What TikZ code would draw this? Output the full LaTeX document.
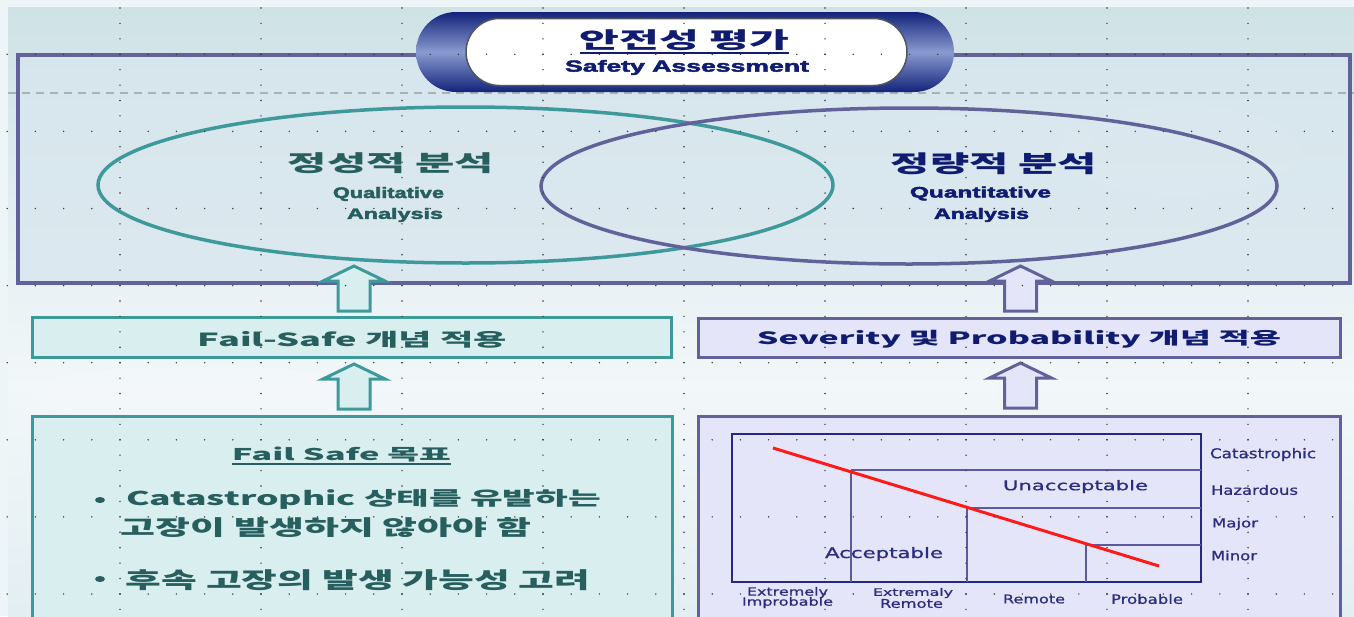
\documentclass[tikz,border=0pt]{standalone}
\usepackage{fontspec}
\usepackage{graphicx}
\usetikzlibrary{shapes.geometric,calc}
\newfontfamily\kr{Noto Sans CJK KR}
\newfontfamily\ar{Liberation Sans}[BoldFeatures={FakeBold=2.5}]
\newfontfamily\dv{DejaVu Sans}[FakeBold=0.8]
\newcommand{\fb}[3]{\resizebox*{#1pt}{#2pt}{#3}}
\definecolor{navy}{HTML}{101C70}
\definecolor{tealdk}{HTML}{275E5E}
\definecolor{tealln}{HTML}{3E9A9A}
\definecolor{tealfill}{HTML}{D9EEEF}
\definecolor{purln}{HTML}{62629A}
\definecolor{purfill}{HTML}{E5E5FA}
\definecolor{panelln}{HTML}{62629A}
\definecolor{panelfill}{HTML}{D8E6EE}
\definecolor{chartln}{HTML}{27287A}
\definecolor{chartin}{HTML}{5A5AA0}
\definecolor{chartlab}{HTML}{2C2C80}
\definecolor{dotc}{HTML}{3A3A3A}
\definecolor{bgtop}{HTML}{CFE2E6}
\definecolor{bgmid}{HTML}{F2F7F9}
\definecolor{bgbot}{HTML}{E3EEF2}
\definecolor{bgpale}{HTML}{EEF5F7}
\definecolor{dashc}{HTML}{A8B0B8}
\definecolor{pillbd}{HTML}{505560}
\definecolor{redln}{HTML}{FF1A1A}
\definecolor{pilldark}{HTML}{13237A}
\definecolor{pilllight}{HTML}{8A9AD0}
\tikzset{
  txt/.style={inner sep=0pt, anchor=center},
  box/.style={draw, line width=3pt, inner sep=0pt, rectangle},
  tealbox/.style={box, draw=tealln, fill=tealfill},
  purbox/.style={box, draw=purln, fill=purfill},
  ell/.style={draw, ellipse, line width=3.5pt, inner sep=0pt},
  tealarr/.style={draw=tealln, fill=tealfill, line width=3pt, line join=miter},
  purarr/.style={draw=purln, fill=purfill, line width=3pt, line join=miter},
  uparr/.pic={\path[pic actions] (-16,0) -- (-16,-30) -- (-31,-30) -- (0,-45) -- (31,-30) -- (16,-30) -- (16,0) -- cycle;},
  thinln/.style={draw=chartin, line width=1.2pt},
  lab/.style={txt, text=chartlab, font=\dv},
}
\begin{document}
\begin{tikzpicture}[x=1pt,y=-1pt]
\clip (0,0) rectangle (1354,616);
% background
\fill[bgpale] (0,0) rectangle (1354,616);
\shade[top color=bgtop, bottom color=bgmid] (8,7) rectangle (1354,385);
\shade[top color=bgmid, bottom color=bgbot] (8,385) rectangle (1354,616);
% soft clouds
\fill[white, opacity=0.2] (1180,150) ellipse (120 and 45);
\fill[white, opacity=0.15] (1000,140) ellipse (90 and 35);
\fill[white, opacity=0.12] (200,395) ellipse (170 and 30);
% top panel
\node[box, draw=panelln, line width=4pt, fill=panelfill, fill opacity=0.75, minimum width=1332.5pt, minimum height=228pt] (panel) at (683.75,169) {};
\draw[draw=dashc, line width=1.5pt, dash pattern=on 8pt off 6pt] (8,93) -- (1354,93);
% ellipses
\node[ell, draw=tealln, minimum width=735pt, minimum height=156pt] (qual) at (465.5,185) {};
\node[ell, draw=purln, minimum width=736pt, minimum height=156pt] (quan) at (909,186) {};
\node[txt, text=tealdk, font=\kr\bfseries] (q1) at (391,163.5) {\fb{206}{21}{정성적 분석}};
\node[txt, text=tealdk, font=\ar\bfseries] (q2) at (388.5,194) {\fb{111}{14}{Qualitative}};
\node[txt, text=tealdk, font=\ar\bfseries] (q3) at (395,215) {\fb{96}{14}{Analysis}};
\node[txt, text=navy, font=\kr\bfseries] (n1) at (994,164) {\fb{206}{22}{정량적 분석}};
\node[txt, text=navy, font=\ar\bfseries] (n2) at (980.5,193.5) {\fb{141}{14}{Quantitative}};
\node[txt, text=navy, font=\ar\bfseries] (n3) at (981.5,215) {\fb{95}{14}{Analysis}};
% title pill
\node[rectangle, rounded corners=40pt, minimum width=538pt, minimum height=80pt, inner sep=0pt,
  top color=pilldark, bottom color=pilldark, middle color=pilllight] (pill) at (685,52) {};
\node[rectangle, rounded corners=33.5pt, minimum width=441pt, minimum height=67pt, inner sep=0pt,
  fill=white, draw=pillbd, line width=1.5pt] (pillin) at (686.5,52) {};
\node[txt, text=navy, font=\kr\bfseries] (t1) at (684.5,40.5) {\fb{209}{21}{안전성 평가}};
\draw[navy, line width=2pt] ($(t1.south west)+(0,1.5)$) -- ($(t1.south east)+(0,1.5)$);
\node[txt, text=navy, font=\ar\bfseries] (t2) at (687,67.5) {\fb{244}{15}{Safety Assessment}};
% middle boxes
\node[tealbox, minimum width=639pt, minimum height=40pt] (fs) at (352,337.5) {};
\node[txt, text=tealdk, font=\kr\bfseries] (fst) at (352.5,339.5) {\fb{309}{17}{Fail-Safe 개념 적용}};
\node[purbox, minimum width=642pt, minimum height=39pt] (sv) at (1019.5,338) {};
\node[txt, text=navy, font=\kr\bfseries] (svt) at (1019,339) {\fb{524}{18}{Severity 및 Probability 개념 적용}};
% bottom boxes
\node[tealbox, minimum width=640pt, minimum height=223.5pt] (goalbox) at (352.5,528.25) {};
\node[purbox, minimum width=642pt, minimum height=223.5pt] (chartbox) at (1019.5,528.25) {};
% block arrows
\pic[tealarr] at ($(fs.north)+(2,-5)$) {uparr};
\pic[tealarr] at ($(goalbox.north)+(1.5,-6)$) {uparr};
\pic[purarr] at ($(sv.north)+(1,-6)$) {uparr};
\pic[purarr] at ($(chartbox.north)+(1,-7)$) {uparr};
% goal text
\node[txt, text=tealdk, font=\kr\bfseries] (goal) at (341.5,454.5) {\fb{219}{15}{Fail Safe 목표}};
\draw[tealdk, line width=1.5pt] ($(goal.south west)+(0,2)$) -- ($(goal.south east)+(0,2)$);
\fill[tealdk] (100,500) ellipse (5 and 3);
\node[txt, text=tealdk, font=\kr\bfseries] (b1) at (363.5,499) {\fb{475}{20}{Catastrophic 상태를 유발하는}};
\node[txt, text=tealdk, font=\kr\bfseries] (b2) at (326,528) {\fb{410}{20}{고장이 발생하지 않아야 함}};
\fill[tealdk] (100,579) ellipse (5 and 3);
\node[txt, text=tealdk, font=\kr\bfseries] (b3) at (358,580) {\fb{464}{21}{후속 고장의 발생 가능성 고려}};
% chart
\node[rectangle, draw=chartln, line width=2pt, inner sep=0pt, minimum width=469pt, minimum height=148pt] (chart) at (966.5,508) {};
\draw[thinln] (851,470) -- (1201,470);
\draw[thinln] (851,470) -- (851,582);
\draw[thinln] (967,508) -- (1201,508);
\draw[thinln] (967,508) -- (967,582);
\draw[thinln] (1086,545) -- (1201,545);
\draw[thinln] (1086,545) -- (1086,582);
\draw[redln, line width=3pt] (773,448) -- (1159,566);
\node[lab] (unacc) at (1075.5,486.5) {\fb{145}{13}{Unacceptable}};
\node[lab] (acc) at (884,554) {\fb{118}{14}{Acceptable}};
\node[lab] (cat) at (1263,454.5) {\fb{106}{13}{Catastrophic}};
\node[lab] (haz) at (1254.5,490) {\fb{87}{10}{Hazardous}};
\node[lab] (maj) at (1235,524) {\fb{46}{12}{Major}};
\node[lab] (min) at (1234,555.5) {\fb{46}{10}{Minor}};
\node[lab] (ex1) at (787.5,592.5) {\fb{81}{11}{Extremely}};
\node[lab] (imp) at (787.5,602.5) {\fb{91}{11}{Improbable}};
\node[lab] (ex2) at (913,593) {\fb{80}{10}{Extremaly}};
\node[lab] (rem1) at (911.5,603.5) {\fb{63}{9}{Remote}};
\node[lab] (rem2) at (1034,599) {\fb{62}{9}{Remote}};
\node[lab] (prob) at (1147,599) {\fb{72}{10}{Probable}};
% grid dots
\foreach \j in {0,...,7}{
  \foreach \k in {0,...,47}{
    \fill[dotc] ({7.2+28.2*\k},{54.3+77.1*\j}) circle (0.8);
  }
}
\foreach \i in {0,...,8}{
  \foreach \m in {0,...,39}{
    \fill[dotc] ({120+141*\i},{8+15.42*\m}) circle (0.8);
  }
}
\end{tikzpicture}
\end{document}
